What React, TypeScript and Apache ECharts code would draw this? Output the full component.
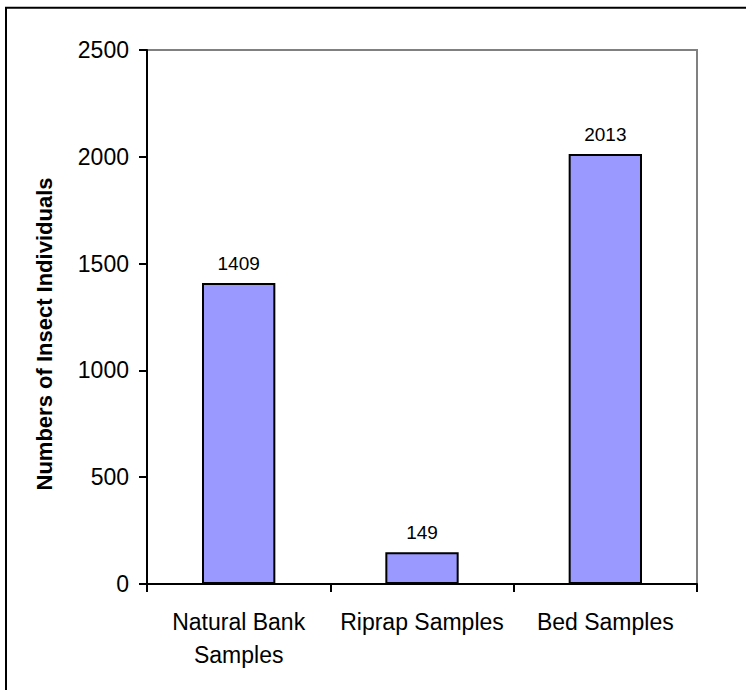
import React, { useEffect, useRef } from "react";
import * as echarts from "echarts";

const categories = ["Natural Bank\nSamples", "Riprap Samples", "Bed Samples"];
const counts = [1409, 149, 2013];
const yTicks = [0, 500, 1000, 1500, 2000, 2500];
const yTitle = "Numbers of Insect Individuals";

const FONT = "Arial, 'Liberation Sans', sans-serif";

export default function App() {
  const ref = useRef<HTMLDivElement>(null);
  useEffect(() => {
    if (!ref.current) return;
    const chart = echarts.init(ref.current, null, { renderer: "svg" });
    chart.setOption({
      animation: false,
      backgroundColor: "#ffffff",
      grid: {
        left: 147,
        right: 49,
        top: 50,
        bottom: 106,
        show: true,
        borderColor: "#808080",
        borderWidth: 2,
        backgroundColor: "transparent",
      },
      xAxis: {
        type: "category",
        data: categories,
        boundaryGap: true,
        axisLine: { show: true, lineStyle: { color: "#000", width: 2 } },
        axisTick: { show: true, length: 8, lineStyle: { color: "#000", width: 2 } },
        axisLabel: {
          color: "#000",
          fontSize: 23,
          fontFamily: FONT,
          margin: 21,
          lineHeight: 33,
          interval: 0,
        },
        splitLine: { show: false },
      },
      yAxis: {
        type: "value",
        min: yTicks[0],
        max: yTicks[yTicks.length - 1],
        interval: 500,
        axisLine: { show: true, lineStyle: { color: "#000", width: 2 } },
        axisTick: { show: true, length: 8, lineStyle: { color: "#000", width: 2 } },
        axisLabel: {
          color: "#000",
          fontSize: 23,
          fontFamily: FONT,
          margin: 18,
          formatter: (v: number) => String(v),
        },
        splitLine: { show: false },
      },
      series: [
        {
          type: "bar",
          data: counts,
          barWidth: "40%",
          itemStyle: { color: "#9999FF", borderColor: "#000", borderWidth: 2 },
          label: {
            show: true,
            position: "top",
            distance: 10,
            color: "#000",
            fontSize: 19,
            fontFamily: FONT,
          },
        },
      ],
      graphic: [
        {
          type: "line",
          shape: { x1: 6, y1: 7, x2: 6, y2: 690 },
          style: { stroke: "#000", lineWidth: 2 },
        },
        {
          type: "line",
          shape: { x1: 5, y1: 7.7, x2: 746, y2: 7.7 },
          style: { stroke: "#000", lineWidth: 2 },
        },
        {
          type: "text",
          x: 44,
          y: 334,
          rotation: Math.PI / 2,
          style: {
            text: yTitle,
            fill: "#000",
            font: `bold 22px ${FONT}`,
            align: "center",
            verticalAlign: "middle",
          },
        },
      ],
    });
    return () => chart.dispose();
  }, []);
  return (
    <div
      ref={ref}
      style={{ position: "absolute", left: 0, top: 0, width: 746, height: 690 }}
    />
  );
}
